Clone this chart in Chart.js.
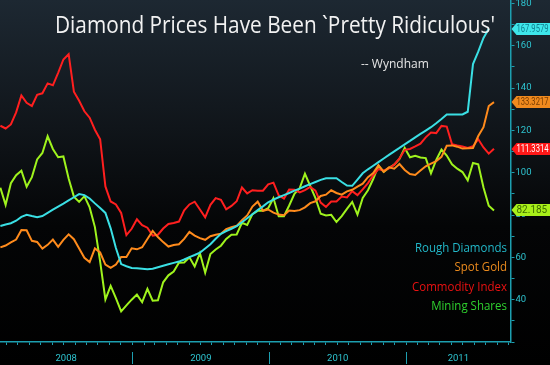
<!DOCTYPE html>
<html>
<head>
<meta charset="utf-8">
<script src="https://cdn.jsdelivr.net/npm/chart.js@4.4.1/dist/chart.umd.min.js"></script>
<style>
  html, body { margin: 0; padding: 0; background: #000; }
  canvas { display: block; }
</style>
</head>
<body>
<canvas id="diamondChart" width="550" height="365"></canvas>
<script>
// days since 1 Jan 2008, one reading every two weeks
const days = Array.from({ length: 95 }, (_, i) => 14 + 14 * i);

const roughDiamonds = [
  74.8, 75.5, 76.1, 77.3, 79.1, 80.1, 79.5, 79, 79.5, 81,
  82.5, 84, 85.4, 86.9, 88.4, 89.9, 89.4, 87.8, 85.5, 83.3,
  81, 73.7, 64.4, 56.8, 55.8, 55, 54.8, 54.6, 54.4, 54.6,
  55.3, 56, 56.7, 57.4, 58, 59, 60.1, 61.1, 62.2, 64.2,
  66.2, 68.8, 71.1, 72.4, 73.5, 74.8, 76.6, 78.5, 80.4, 82.3,
  84.1, 86, 87.3, 88.4, 89.4, 90.4, 91.5, 92.5, 93.6, 94.6,
  95.6, 96.6, 97.4, 97.4, 97.4, 95.6, 93.9, 93.8, 96.7, 99.7,
  101.6, 103.3, 105, 106.7, 108.4, 110.1, 111.7, 113.4, 115, 116.7,
  118.3, 119.9, 121.5, 123.4, 125.4, 127.5, 127.5, 127.5, 127.5, 128.8,
  151.3, 157.2, 163.7, 167.9579, null
];

const spotGold = [
  64.7, 65.6, 67.1, 68.4, 72.9, 72.8, 67.8, 67.3, 64.1, 65.9,
  68.4, 65, 68.3, 70.9, 68.6, 64.2, 59.8, 57.8, 64.2, 62.3,
  56.6, 55, 56.6, 60.2, 60.2, 64.3, 63.8, 64.8, 68.7, 72.5,
  69.6, 67.2, 65.1, 65.8, 66.2, 68.7, 72, 70.3, 69.1, 68.3,
  70, 70.7, 71.2, 73.3, 74.2, 74.9, 77.6, 79.8, 84, 86.3,
  82, 82.6, 81.1, 80.2, 79.9, 82.1, 81.9, 82.3, 83.6, 85.6,
  86.5, 89, 89.6, 91.7, 90.4, 89.6, 91.2, 91.9, 93.4, 94.8,
  97.9, 99.8, 103.5, 100.4, 102.5, 101.9, 104.1, 101.3, 99.4, 98.9,
  101, 103, 104.3, 105.5, 107.5, 112.7, 112.9, 112.3, 111.4, 111.5,
  111.7, 117.3, 121.5, 131.5, 133.3217
];

const commodityIndex = [
  122.2, 120.9, 122.8, 128.5, 136.5, 133, 131.5, 136.8, 137.5, 142.2,
  141.3, 147.2, 153.5, 156, 138.3, 134, 129, 126, 120.3, 115.8,
  93.5, 86.4, 85, 81, 70.5, 73.5, 78, 75.2, 74, 70.3,
  70.7, 73.6, 75.8, 76.2, 76.9, 82.2, 85, 86.3, 82.6, 78.9,
  84.8, 88, 87.2, 82.7, 84.3, 86.5, 93, 90.2, 91.7, 91.5,
  91.5, 94.5, 95.3, 89.3, 87.8, 92, 91.9, 90.7, 91.8, 93.3,
  91.5, 85.9, 83.8, 86.4, 86.4, 88.7, 88.3, 91.3, 89.4, 92.1,
  95.1, 98.8, 101.7, 101, 102.1, 103.8, 106.7, 110.8, 111.2, 112.4,
  113.7, 116.7, 119, 118.7, 122.1, 121.8, 113.5, 112.9, 112.4, 111.7,
  112.5, 115.8, 111.9, 109, 111.3314
];

const miningShares = [
  92.9, 84.8, 95, 98.8, 100.9, 93.4, 97.9, 106.3, 109.3, 117.2,
  111.2, 107.3, 107.7, 97.3, 88.7, 86.2, 88.9, 83.6, 74.3, 58,
  40.1, 46.5, 40.7, 34.5, 37.3, 40, 42.4, 38.8, 45.1, 39.5,
  39.7, 48.2, 51.5, 53.3, 57.5, 57.6, 60, 55.7, 62, 52.7,
  61.6, 63.7, 65.5, 68.7, 70.7, 70.8, 76.3, 75.3, 80.4, 82,
  82, 83.2, 88, 79.4, 79.4, 84.5, 90, 92.7, 99.5, 93.8,
  88, 80.6, 79.8, 80.1, 76.7, 79.5, 82.9, 86.2, 80.2, 88.1,
  91.7, 97, 103.3, 100.4, 102.3, 103.8, 106.5, 111.7, 107.3, 108,
  107.2, 106.9, 99.7, 106, 110.9, 108.1, 104, 101.9, 100.3, 96.4,
  104.6, 104, 93, 84.4, 82.185
];

const seriesNames = ['Rough Diamonds', 'Spot Gold', 'Commodity Index', 'Mining Shares'];
const years = [2008, 2009, 2010, 2011];
const yTicks = [20, 30, 40, 50, 60, 70, 80, 90, 100, 110, 120, 130, 140, 150, 160, 170, 180];

const titleText = "Diamond Prices Have Been `Pretty Ridiculous'";
const subtitleText = '-- Wyndham';

const lineColors = ['#3adfe4', '#ff8b1c', '#ff1f1f', '#9ff31d'];
const legendColors = ['#22b8c9', '#ea8a1e', '#ea1212', '#2fd22f'];
const tagColors = ['#3ee6ea', '#f08a1e', '#ff1818', '#a8f01a'];
const tagTextColors = ['#10808f', '#7a3d00', '#ffffff', '#3d6b00'];
const axisColor = '#1d9fb0';
const tickTextColor = '#2ec4d0';

const dayOf = (y, m) => (Date.UTC(y, m, 1) - Date.UTC(2008, 0, 1)) / 864e5;
const xMin = 13, xMax = 1374;

const overlay = {
  id: 'overlay',
  beforeDraw(chart) {
    const { ctx, width, height } = chart;
    const g = ctx.createLinearGradient(0, 0, 0, height);
    g.addColorStop(0, '#1d2832');
    g.addColorStop(0.35, '#10151a');
    g.addColorStop(0.62, '#040506');
    g.addColorStop(1, '#000000');
    ctx.save();
    ctx.fillStyle = g;
    ctx.fillRect(0, 0, width, height);
    ctx.restore();
  },
  afterDraw(chart) {
    const { ctx } = chart;
    const x = chart.scales.x, y = chart.scales.y;
    ctx.save();

    // year separators under the axis
    ctx.strokeStyle = axisColor;
    ctx.lineWidth = 1;
    years.slice(1).forEach(yr => {
      const px = Math.round(x.getPixelForValue(dayOf(yr, 0))) + 0.5;
      ctx.beginPath();
      ctx.moveTo(px, 352);
      ctx.lineTo(px, 364);
      ctx.stroke();
    });

    // title
    ctx.fillStyle = '#f2f2f2';
    ctx.textAlign = 'left';
    ctx.textBaseline = 'alphabetic';
    ctx.font = '23px "Open Sans", sans-serif';
    ctx.fillText(titleText, 55, 33, 440);
    ctx.font = '12px "Open Sans", sans-serif';
    ctx.textBaseline = 'middle';
    ctx.fillStyle = '#e6e6e6';
    ctx.fillText(subtitleText, 361, 65, 71);

    // legend
    ctx.textAlign = 'right';
    ctx.font = '12.5px "Open Sans", sans-serif';
    const legendY = [248, 267, 287, 306];
    seriesNames.forEach((name, i) => {
      ctx.fillStyle = legendColors[i];
      const w = ctx.measureText(name).width;
      ctx.fillText(name, 507, legendY[i], w * 0.92);
    });

    // last-value tags
    ctx.textAlign = 'left';
    ctx.font = '10px Roboto, sans-serif';
    chart.data.datasets.forEach((ds, i) => {
      const pts = ds.data.filter(p => p.y !== null);
      const last = pts[pts.length - 1].y;
      const py = Math.round(y.getPixelForValue(last));
      const left = chart.chartArea.right + 1;
      ctx.fillStyle = tagColors[i];
      ctx.beginPath();
      ctx.moveTo(left, py);
      ctx.lineTo(left + 5, py - 6);
      ctx.lineTo(550, py - 6);
      ctx.lineTo(550, py + 6);
      ctx.lineTo(left + 5, py + 6);
      ctx.closePath();
      ctx.fill();
      ctx.fillStyle = tagTextColors[i];
      ctx.fillText(String(last), left + 5, py + 0.5, 32);
    });
    ctx.restore();
  }
};

const series = [roughDiamonds, spotGold, commodityIndex, miningShares];

new Chart(document.getElementById('diamondChart'), {
  type: 'line',
  data: {
    datasets: series.map((vals, i) => ({
      label: seriesNames[i],
      data: days.map((d, j) => ({ x: d, y: vals[j] })),
      borderColor: lineColors[i],
      borderWidth: 2,
      pointRadius: 0,
      tension: 0,
      fill: false
    }))
  },
  options: {
    responsive: false,
    animation: false,
    devicePixelRatio: 1,
    layout: { padding: 0 },
    plugins: {
      legend: { display: false },
      tooltip: { enabled: false },
      title: { display: false }
    },
    scales: {
      x: {
        type: 'linear',
        min: xMin,
        max: xMax,
        afterBuildTicks(scale) {
          const ticks = [];
          years.forEach(yr => {
            for (let m = 0; m < 12; m++) {
              const d = dayOf(yr, m);
              if (d > xMin && d < xMax) ticks.push({ value: d });
            }
            const a = Math.max(dayOf(yr, 0), xMin);
            const b = Math.min(dayOf(yr + 1, 0), xMax);
            ticks.push({ value: (a + b) / 2, yearLabel: String(yr) });
          });
          ticks.sort((p, q) => p.value - q.value);
          scale.ticks = ticks;
        },
        afterFit(scale) {
          scale.height = 23;
          scale.paddingLeft = 0;
          scale.paddingRight = 0;
        },
        border: { display: true, color: axisColor, width: 1.5 },
        grid: {
          drawOnChartArea: false,
          drawTicks: true,
          tickLength: 3,
          tickColor: c => (c.tick && c.tick.yearLabel ? 'rgba(0,0,0,0)' : axisColor)
        },
        ticks: {
          autoSkip: false,
          maxRotation: 0,
          padding: 8,
          color: tickTextColor,
          font: { family: 'Roboto', size: 9.5 },
          callback: (v, i, t) => t[i].yearLabel || ''
        }
      },
      y: {
        position: 'right',
        min: 20,
        max: 181.6,
        afterBuildTicks(scale) {
          scale.ticks = yTicks.map(v => ({ value: v }));
        },
        afterFit(scale) {
          scale.width = 39.5;
          scale.paddingTop = 0;
          scale.paddingBottom = 0;
        },
        border: { display: true, color: axisColor, width: 1.5 },
        grid: {
          drawOnChartArea: false,
          drawTicks: true,
          tickLength: 4,
          tickColor: axisColor
        },
        ticks: {
          padding: 1,
          color: tickTextColor,
          font: { family: 'Roboto', size: 9.5 },
          callback: v => (v % 20 === 0 && v >= 40 ? String(v) : '')
        }
      }
    }
  },
  plugins: [overlay]
});
</script>
</body>
</html>
